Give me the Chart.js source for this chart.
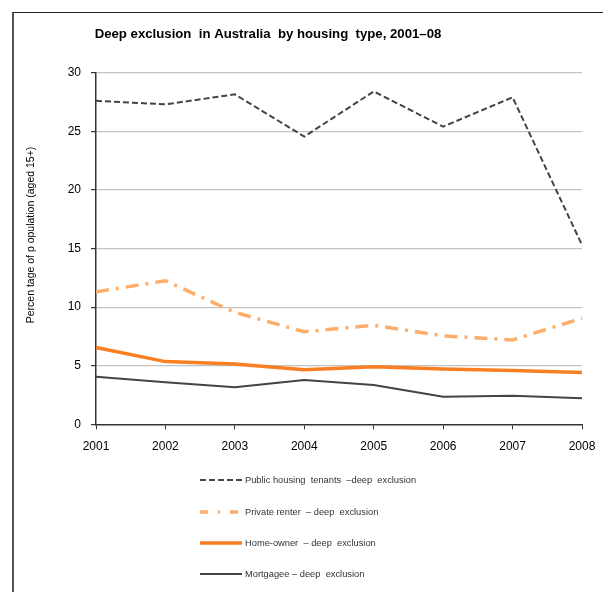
<!DOCTYPE html>
<html><head><meta charset="utf-8">
<script src="https://cdn.jsdelivr.net/npm/chart.js@4/dist/chart.umd.min.js"></script>
<style>
html,body{margin:0;padding:0;background:#fff;}
#wrap{position:relative;width:603px;height:592px;overflow:hidden;}
#frame{position:absolute;left:12px;top:12px;width:700px;height:700px;border-left:2px solid #555;border-top:1px solid #222;}
canvas{position:absolute;left:0;top:0;}
</style></head>
<body><div id="wrap"><div id="frame"></div><canvas id="c" width="603" height="592"></canvas></div>
<script>
const years = ['2001','2002','2003','2004','2005','2006','2007','2008'];
const publicHousing = [27.6, 27.3, 28.15, 24.55, 28.4, 25.4, 27.9, 15.3];
const privateRenter = [11.3, 12.25, 9.55, 7.9, 8.45, 7.55, 7.2, 9.05];
const homeOwner = [6.55, 5.35, 5.15, 4.65, 4.92, 4.72, 4.6, 4.42];
const mortgagee = [4.06, 3.58, 3.16, 3.78, 3.35, 2.35, 2.44, 2.22];
const yTicks = [0, 5, 10, 15, 20, 25, 30];
const chartTitle = 'Deep exclusion  in Australia  by housing  type, 2001–08';
const yTitle = 'Percen tage of p opulation (aged 15+)';
const seriesLabels = ['Public housing  tenants  –deep  exclusion','Private renter  – deep  exclusion','Home-owner  – deep  exclusion','Mortgagee – deep  exclusion'];

const FONT = 'Arial, "Liberation Sans", sans-serif';

const extras = {
  id: 'extras',
  afterDraw(chart) {
    const ctx = chart.ctx;
    ctx.save();
    // title
    ctx.fillStyle = '#000';
    ctx.font = 'bold 13.2px ' + FONT;
    ctx.textAlign = 'center';
    ctx.textBaseline = 'middle';
    ctx.fillText(chartTitle, 268, 34);
    // y-axis title
    ctx.save();
    ctx.translate(31, 235);
    ctx.rotate(-Math.PI / 2);
    ctx.font = '10.5px ' + FONT;
    ctx.fillText(yTitle, 0, 0);
    ctx.restore();
    // legend
    const rows = [480, 512, 543, 574];
    chart.data.datasets.forEach((ds, i) => {
      const y = rows[i];
      ctx.beginPath();
      ctx.strokeStyle = ds.borderColor;
      ctx.lineWidth = ds.borderWidth;
      ctx.setLineDash(ds.legendDash || []);
      ctx.moveTo(200, y);
      ctx.lineTo(242, y);
      ctx.stroke();
      ctx.setLineDash([]);
      ctx.fillStyle = '#333';
      ctx.font = '9.3px ' + FONT;
      ctx.textAlign = 'left';
      ctx.textBaseline = 'middle';
      ctx.fillText(ds.label, 245, y);
    });
    ctx.restore();
  }
};

new Chart(document.getElementById('c'), {
  type: 'line',
  data: {
    labels: years,
    datasets: [
      { label: seriesLabels[0], data: publicHousing, borderColor: '#444', borderWidth: 2, borderDash: [6, 3], legendDash: [6, 3] },
      { label: seriesLabels[1], data: privateRenter, borderColor: '#FDAE6B', borderWidth: 3.5, borderDash: [13, 7, 3, 7], legendDash: [8, 10, 2, 10] },
      { label: seriesLabels[2], data: homeOwner, borderColor: '#F97F22', borderWidth: 3.5 },
      { label: seriesLabels[3], data: mortgagee, borderColor: '#444', borderWidth: 2 }
    ]
  },
  options: {
    responsive: false,
    animation: false,
    events: [],
    elements: { point: { radius: 0 }, line: { tension: 0 } },
    layout: { padding: { left: 0, top: 72.7, right: 21, bottom: 137.7 } },
    plugins: { legend: { display: false }, title: { display: false }, tooltip: { enabled: false } },
    scales: {
      x: {
        offset: false,
        grid: { drawOnChartArea: false, drawTicks: true, tickLength: 5, tickColor: '#333', tickWidth: 1 },
        border: { color: '#333', width: 1.5 },
        ticks: { color: '#000', font: { family: FONT, size: 12 }, padding: 10, maxRotation: 0, autoSkip: false },
        afterFit(s) { s.height = 30; s.paddingLeft = 0; s.paddingRight = 0; }
      },
      y: {
        min: 0, max: 30,
        afterBuildTicks(s) { s.ticks = yTicks.map(v => ({ value: v })); },
        grid: {
          color: ctx => (ctx.tick && ctx.tick.value === 0) ? 'rgba(0,0,0,0)' : '#c4c4c4',
          lineWidth: 1.2, drawTicks: true, tickLength: 5, tickColor: '#333'
        },
        border: { color: '#333', width: 1.5 },
        ticks: { color: '#000', font: { family: FONT, size: 12 }, padding: 10 },
        afterFit(s) { s.width = 96; s.paddingTop = 0; s.paddingBottom = 0; }
      }
    }
  },
  plugins: [extras]
});
</script></body></html>
